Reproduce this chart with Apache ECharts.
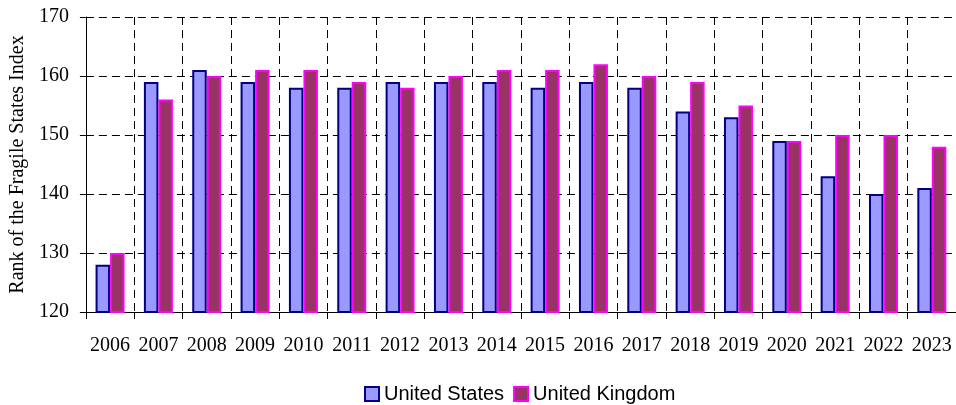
<!DOCTYPE html>
<html><head><meta charset="utf-8">
<script src="https://cdn.jsdelivr.net/npm/echarts@6/dist/echarts.min.js"></script>
<style>html,body{margin:0;padding:0;background:#fff}#c{width:956px;height:405px}</style>
</head><body><div id="c"></div>
<script>
const years = ['2006','2007','2008','2009','2010','2011','2012','2013','2014','2015','2016','2017','2018','2019','2020','2021','2022','2023'];
const unitedStates = [128,159,161,159,158,158,159,159,159,158,159,158,154,153,149,143,140,141];
const unitedKingdom = [130,156,160,161,161,159,158,160,161,161,162,160,159,155,149,150,150,148];
const yTicks = {min:120, max:170, interval:10};

const chart = echarts.init(document.getElementById('c'), null, {renderer:'canvas'});
const serif = '"Liberation Serif","Times New Roman",serif';
const sans = '"Liberation Sans",Arial,sans-serif';
chart.setOption({
  animation:false,
  grid:{left:85, right:0, top:17, bottom:93},
  legend:{
    top:384, left:364, padding:0, itemWidth:14, itemHeight:14, itemGap:9,
    icon:'rect',
    textStyle:{fontFamily:sans, fontSize:20, color:'#000'},
    data:['United States','United Kingdom']
  },
  xAxis:{
    type:'category', data:years,
    axisLine:{lineStyle:{color:'#000', width:1}},
    axisTick:{show:true, length:7, lineStyle:{color:'#000'}},
    axisLabel:{fontFamily:serif, fontSize:20, color:'#000', margin:24, interval:0},
    splitLine:{show:true, interval:0, lineStyle:{color:'#000', type:[8,5], width:1}}
  },
  yAxis:{
    type:'value', min:yTicks.min, max:yTicks.max, interval:yTicks.interval,
    name:'Rank of the Fragile States Index', nameLocation:'middle', nameGap:57,
    nameTextStyle:{fontFamily:serif, fontSize:20, color:'#000'},
    axisLine:{show:true, lineStyle:{color:'#000'}},
    axisTick:{show:true, length:6, lineStyle:{color:'#000'}},
    axisLabel:{fontFamily:serif, fontSize:20, color:'#000', margin:17},
    splitLine:{show:true, lineStyle:{color:'#000', type:[8,5], width:1}}
  },
  series:[
    {name:'United States', type:'bar', data:unitedStates, barGap:'0%', barCategoryGap:'40%',
     itemStyle:{color:'#9999FF', borderColor:'#000080', borderWidth:2}},
    {name:'United Kingdom', type:'bar', data:unitedKingdom,
     itemStyle:{color:'#993366', borderColor:'#FF00FF', borderWidth:2}}
  ]
});
</script></body></html>
